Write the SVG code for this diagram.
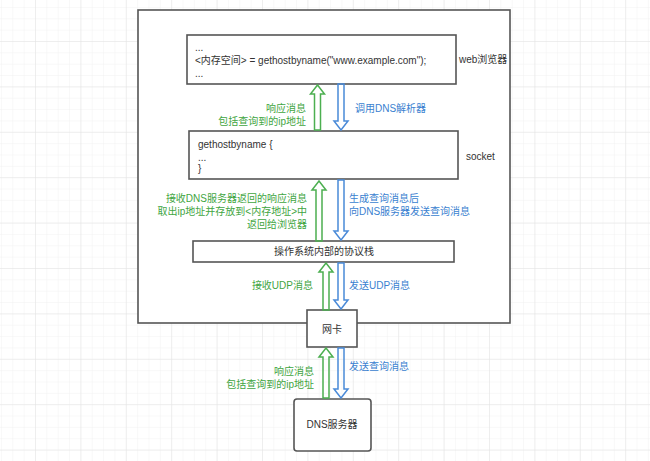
<svg xmlns="http://www.w3.org/2000/svg" width="650" height="461" viewBox="0 0 650 461">
<defs>
<pattern id="minor" x="35" y="41" width="11.35" height="11.35" patternUnits="userSpaceOnUse">
<path d="M0 0H11.35M0 0V11.35" fill="none" stroke="#f1f1f1" stroke-width="1"/>
</pattern>
<pattern id="major" x="35" y="41" width="45.4" height="45.4" patternUnits="userSpaceOnUse">
<path d="M0 0H45.4M0 0V45.4" fill="none" stroke="#e3e3e3" stroke-width="1"/>
</pattern>
</defs>
<style>
text{font-family:"Liberation Sans","Noto Sans CJK SC",sans-serif;font-size:10px;fill:#333}
.box{fill:#fff;stroke:#555;stroke-width:1.6}
.g{fill:#3fa53f}
.b{fill:#3a7fd0}
.r{text-anchor:end}
.m{text-anchor:middle}
.ga{fill:none;stroke:#4caf50;stroke-width:1.5;stroke-linejoin:miter}
.ba{fill:none;stroke:#4a8ad8;stroke-width:1.5;stroke-linejoin:miter}
</style>
<rect width="650" height="461" fill="#fff"/>
<rect width="650" height="461" fill="url(#minor)"/>
<rect width="650" height="461" fill="url(#major)"/>

<g id="os">
<rect class="box" x="138" y="10" width="372" height="313" stroke-width="2"/>
</g>

<g id="browser">
<rect class="box" x="187" y="35" width="269" height="49"/>
<text x="195" y="51">...</text>
<text x="195" y="64">&lt;内存空间&gt; = gethostbyname("www.example.com");</text>
<text x="195" y="77">...</text>
<text x="459" y="63">web浏览器</text>
</g>

<g id="socket">
<rect class="box" x="189" y="131" width="269" height="48"/>
<text x="198" y="148">gethostbyname {</text>
<text x="198" y="161">...</text>
<text x="198" y="172">}</text>
<text x="466" y="160">socket</text>
</g>

<g id="stack">
<rect class="box" x="193" y="241" width="261" height="21"/>
<text class="m" x="324" y="255">操作系统内部的协议栈</text>
</g>

<g id="nic">
<rect class="box" x="307" y="310" width="50" height="37"/>
<text class="m" x="332" y="333">网卡</text>
</g>

<g id="dns">
<rect class="box" x="294" y="399" width="77" height="52" rx="3"/>
<text class="m" x="332" y="428">DNS服务器</text>
</g>

<g id="connectors">
<path class="ga" d="M314.5 130V94H310.5L317.5 85L324.5 94H320.5V130Z"/>
<path class="ba" d="M338 84V121H334L341 130L348 121H344V84Z"/>
<path class="ga" d="M316 241V190H312L319 181L326 190H322V241Z"/>
<path class="ba" d="M338 180V231H334L341 240L348 231H344V180Z"/>
<path class="ga" d="M323 310V272H319L326 263L333 272H329V310Z"/>
<path class="ba" d="M338 263V300H334L341 309L348 300H344V263Z"/>
<path class="ga" d="M323 398V357H319L326 348L333 357H329V398Z"/>
<path class="ba" d="M338 348V389H334L341 398L348 389H344V348Z"/>
</g>

<g id="labels">
<text class="g r" x="306" y="112">响应消息</text>
<text class="g r" x="306" y="125">包括查询到的ip地址</text>
<text class="b" x="355" y="112">调用DNS解析器</text>
<text class="g r" x="307" y="202">接收DNS服务器返回的响应消息</text>
<text class="g r" x="307" y="215">取出ip地址并存放到&lt;内存地址&gt;中</text>
<text class="g r" x="307" y="228">返回给浏览器</text>
<text class="b" x="349" y="202">生成查询消息后</text>
<text class="b" x="349" y="215">向DNS服务器发送查询消息</text>
<text class="g r" x="313" y="289">接收UDP消息</text>
<text class="b" x="349" y="289">发送UDP消息</text>
<text class="g r" x="314" y="375">响应消息</text>
<text class="g r" x="314" y="388">包括查询到的ip地址</text>
<text class="b" x="349" y="370">发送查询消息</text>
</g>
</svg>
